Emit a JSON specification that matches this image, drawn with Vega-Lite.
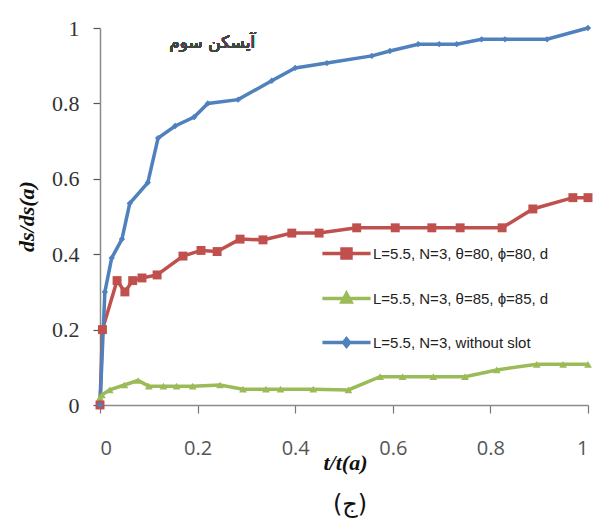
{
  "$schema": "https://vega.github.io/schema/vega-lite/v6.json",
  "width": 488,
  "height": 377,
  "autosize": {"type": "none"},
  "padding": {"left": 100, "top": 28, "right": 8, "bottom": 122},
  "background": "white",
  "config": {"view": {"stroke": null}},
  "title": {"text": "(ج)", "orient": "bottom", "anchor": "middle", "font": "DejaVu Sans", "fontSize": 24, "fontWeight": "normal", "color": "#111", "offset": 20, "dx": 6},
  "data": {
    "values": [
      {"series": "B", "x": 0, "y": 0.02},
      {"series": "B", "x": 0.004, "y": 0.027},
      {"series": "B", "x": 0.02, "y": 0.04},
      {"series": "B", "x": 0.05, "y": 0.053},
      {"series": "B", "x": 0.078, "y": 0.065},
      {"series": "B", "x": 0.1, "y": 0.05},
      {"series": "B", "x": 0.13, "y": 0.05},
      {"series": "B", "x": 0.157, "y": 0.05},
      {"series": "B", "x": 0.19, "y": 0.05},
      {"series": "B", "x": 0.246, "y": 0.053},
      {"series": "B", "x": 0.293, "y": 0.042},
      {"series": "B", "x": 0.34, "y": 0.042},
      {"series": "B", "x": 0.37, "y": 0.042},
      {"series": "B", "x": 0.437, "y": 0.042},
      {"series": "B", "x": 0.509, "y": 0.04},
      {"series": "B", "x": 0.574, "y": 0.075},
      {"series": "B", "x": 0.62, "y": 0.075},
      {"series": "B", "x": 0.683, "y": 0.075},
      {"series": "B", "x": 0.748, "y": 0.075},
      {"series": "B", "x": 0.813, "y": 0.093},
      {"series": "B", "x": 0.895, "y": 0.108},
      {"series": "B", "x": 0.949, "y": 0.108},
      {"series": "B", "x": 1.0, "y": 0.108},
      {"series": "A", "x": 0, "y": 0},
      {"series": "A", "x": 0.005, "y": 0.2},
      {"series": "A", "x": 0.035, "y": 0.33},
      {"series": "A", "x": 0.051, "y": 0.3},
      {"series": "A", "x": 0.067, "y": 0.33},
      {"series": "A", "x": 0.086, "y": 0.337},
      {"series": "A", "x": 0.117, "y": 0.345},
      {"series": "A", "x": 0.17, "y": 0.395},
      {"series": "A", "x": 0.207, "y": 0.41},
      {"series": "A", "x": 0.24, "y": 0.407},
      {"series": "A", "x": 0.287, "y": 0.44},
      {"series": "A", "x": 0.334, "y": 0.438},
      {"series": "A", "x": 0.393, "y": 0.456},
      {"series": "A", "x": 0.449, "y": 0.456},
      {"series": "A", "x": 0.526, "y": 0.47},
      {"series": "A", "x": 0.605, "y": 0.47},
      {"series": "A", "x": 0.68, "y": 0.47},
      {"series": "A", "x": 0.738, "y": 0.47},
      {"series": "A", "x": 0.824, "y": 0.47},
      {"series": "A", "x": 0.887, "y": 0.52},
      {"series": "A", "x": 0.969, "y": 0.55},
      {"series": "A", "x": 1.0, "y": 0.55},
      {"series": "C", "x": 0, "y": 0},
      {"series": "C", "x": 0.01, "y": 0.3},
      {"series": "C", "x": 0.024, "y": 0.39},
      {"series": "C", "x": 0.045, "y": 0.44},
      {"series": "C", "x": 0.061, "y": 0.535},
      {"series": "C", "x": 0.098, "y": 0.59},
      {"series": "C", "x": 0.119, "y": 0.708},
      {"series": "C", "x": 0.154, "y": 0.74},
      {"series": "C", "x": 0.193, "y": 0.764},
      {"series": "C", "x": 0.221, "y": 0.8},
      {"series": "C", "x": 0.283, "y": 0.81},
      {"series": "C", "x": 0.352, "y": 0.86},
      {"series": "C", "x": 0.4, "y": 0.894},
      {"series": "C", "x": 0.465, "y": 0.907},
      {"series": "C", "x": 0.557, "y": 0.926},
      {"series": "C", "x": 0.594, "y": 0.939},
      {"series": "C", "x": 0.652, "y": 0.957},
      {"series": "C", "x": 0.695, "y": 0.957},
      {"series": "C", "x": 0.731, "y": 0.957},
      {"series": "C", "x": 0.782, "y": 0.97},
      {"series": "C", "x": 0.83, "y": 0.97},
      {"series": "C", "x": 0.916, "y": 0.97},
      {"series": "C", "x": 1.0, "y": 1.0}
    ]
  },
  "encoding": {
    "x": {
      "field": "x", "type": "quantitative",
      "scale": {"domain": [0, 1], "nice": false},
      "axis": {
        "values": [0, 0.2, 0.4, 0.6, 0.8, 1], "format": "~g", "grid": false,
        "domainColor": "#8a8a8a", "domainWidth": 1.5, "tickColor": "#777", "tickWidth": 1.2, "tickSize": 8,
        "labelFont": "Open Sans", "labelFontSize": 20, "labelColor": "#555", "labelPadding": 25,
        "title": "t/t(a)", "titleFont": "Liberation Serif", "titleFontStyle": "italic", "titleFontWeight": "bold",
        "titleFontSize": 22, "titleColor": "#111", "titleX": 245, "titleY": 57, "titleBaseline": "middle"
      }
    },
    "y": {
      "field": "y", "type": "quantitative",
      "scale": {"domain": [0, 1], "nice": false},
      "axis": {
        "values": [0, 0.2, 0.4, 0.6, 0.8, 1], "format": "~g", "grid": false,
        "domainColor": "#8a8a8a", "domainWidth": 1.5, "tickColor": "#555", "tickWidth": 1.2, "tickSize": 7,
        "labelFont": "Liberation Serif", "labelFontSize": 22, "labelColor": "#333", "labelPadding": 14,
        "title": "ds/ds(a)", "titleFont": "Liberation Serif", "titleFontStyle": "italic", "titleFontWeight": "bold",
        "titleFontSize": 22, "titleColor": "#111", "titleX": -74, "titleY": 188, "titleBaseline": "middle"
      }
    }
  },
  "layer": [
    {
      "mark": {"type": "line", "strokeWidth": 3.5},
      "encoding": {
        "color": {
          "field": "series", "type": "nominal",
          "scale": {"domain": ["A", "B", "C"], "range": ["#C0504D", "#9BBB59", "#4F81BD"]},
          "legend": {
            "orient": "none", "legendX": 222, "legendY": 201, "title": null, "padding": 0,
            "symbolSize": 2025, "rowPadding": 9, "labelOffset": 2, "labelLimit": 400,
            "symbolType": "M-1.07,0H1.07",
            "labelFont": "Liberation Sans", "labelFontSize": 15, "labelColor": "#222",
            "labelExpr": "datum.value == 'A' ? 'L=5.5, N=3, θ=80, ϕ=80, d' : datum.value == 'B' ? 'L=5.5, N=3, θ=85, ϕ=85, d' : 'L=5.5, N=3, without slot'",
            "encode": {
              "symbols": {
                "update": {
                  "shape": [
                    {"test": "datum.value == 'A'", "value": "M-1.07,0H1.07M-0.2,-0.2H0.2V0.2H-0.2Z"},
                    {"test": "datum.value == 'B'", "value": "M-1.07,0H1.07M0,-0.22L0.2,0.15H-0.2Z"},
                    {"value": "M-1.07,0H1.07M0,-0.16L0.13,0L0,0.16L-0.13,0Z"}
                  ],
                  "fill": {"scale": "color", "field": "value"},
                  "stroke": {"scale": "color", "field": "value"},
                  "strokeWidth": {"value": 3.5},
                  "opacity": {"value": 1}
                }
              }
            }
          }
        }
      }
    },
    {
      "transform": [{"filter": "datum.series == 'B'"}],
      "mark": {"type": "point", "filled": true, "opacity": 1, "shape": "triangle-up", "size": 60, "color": "#9BBB59"}
    },
    {
      "transform": [{"filter": "datum.series == 'A'"}],
      "mark": {"type": "point", "filled": true, "opacity": 1, "shape": "square", "size": 80, "color": "#C0504D"}
    },
    {
      "transform": [{"filter": "datum.series == 'C'"}],
      "mark": {"type": "point", "filled": true, "opacity": 1, "shape": "diamond", "size": 40, "color": "#4F81BD"}
    },
    {
      "mark": {"type": "text", "font": "DejaVu Sans", "fontSize": 17, "fontWeight": "normal", "color": "#444"},
      "encoding": {
        "x": {"datum": 0.23},
        "y": {"datum": 0.96},
        "text": {"value": "آیسکن سوم"}
      }
    }
  ]
}
